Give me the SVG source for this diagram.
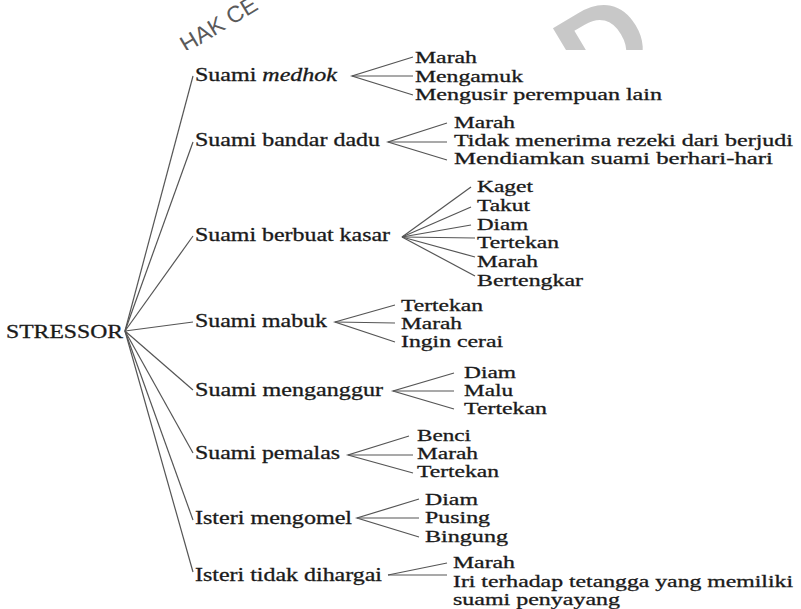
<svg xmlns="http://www.w3.org/2000/svg" width="801" height="609" viewBox="0 0 801 609">
<style>
text { font-family: "Liberation Serif", "Times New Roman", serif; fill: #1a1a1a; stroke: #1a1a1a; stroke-width: 0.3; }
.root { font-size: 19px; }
.cat { font-size: 18px; }
.item { font-size: 17px; }
.wm { font-family: "Liberation Sans", Arial, sans-serif; fill: #5a5a5a; stroke: none; font-size: 23px; }
.wmbig { font-family: "Liberation Sans", Arial, sans-serif; font-weight: bold; fill: #c8c8c8; stroke: none; font-size: 118px; }
.conn line, .conn polyline { stroke: #555; stroke-width: 1.2; fill: none; }
</style>
<defs>
<clipPath id="top"><rect x="0" y="0" width="801" height="50"/></clipPath>
</defs>
<rect width="801" height="609" fill="#ffffff"/>
<g id="watermark" clip-path="url(#top)">
<text class="wm" transform="translate(186,53) rotate(-31)">HAK CE</text>
<text class="wmbig" transform="translate(588,102) rotate(-31)">D</text>
</g>
<g class="conn" id="connectors">
<line x1="125" y1="331" x2="193" y2="76"/>
<line x1="125" y1="331" x2="193" y2="142"/>
<line x1="125" y1="331" x2="193" y2="236"/>
<line x1="125" y1="331" x2="193" y2="322"/>
<line x1="125" y1="331" x2="193" y2="390"/>
<line x1="125" y1="331" x2="193" y2="453"/>
<line x1="125" y1="331" x2="193" y2="520"/>
<line x1="125" y1="331" x2="193" y2="572"/>
<polyline points="413,57 352,76 413,95"/><line x1="352" y1="76" x2="413" y2="76"/>
<polyline points="447,123 388,142 447,160"/><line x1="388" y1="142" x2="447" y2="142"/>
<line x1="402" y1="237" x2="471" y2="187"/>
<line x1="402" y1="237" x2="471" y2="207"/>
<line x1="402" y1="237" x2="471" y2="225"/>
<line x1="402" y1="237" x2="475" y2="238"/>
<line x1="402" y1="237" x2="475" y2="257"/>
<line x1="402" y1="237" x2="475" y2="276"/>
<polyline points="395,305 335,322 395,342"/><line x1="335" y1="322" x2="395" y2="323"/>
<polyline points="454,373 393,391 454,409"/><line x1="393" y1="391" x2="454" y2="391"/>
<polyline points="409,436 348,455 413,473"/><line x1="348" y1="455" x2="413" y2="455"/>
<polyline points="419,499 357,518 419,537"/><line x1="357" y1="518" x2="419" y2="518"/>
<line x1="388" y1="575" x2="447" y2="563"/><line x1="388" y1="575" x2="447" y2="575"/>
</g>
<g id="stressor"><text class="root" x="6" y="338" textLength="117" lengthAdjust="spacingAndGlyphs">STRESSOR</text></g>
<g id="suami-medhok">
<text class="cat" x="195" y="81" textLength="142" lengthAdjust="spacingAndGlyphs">Suami <tspan font-style="italic">medhok</tspan></text>
<text class="item" x="415" y="63" textLength="62" lengthAdjust="spacingAndGlyphs">Marah</text>
<text class="item" x="415" y="82" textLength="108" lengthAdjust="spacingAndGlyphs">Mengamuk</text>
<text class="item" x="415" y="100" textLength="247" lengthAdjust="spacingAndGlyphs">Mengusir perempuan lain</text>
</g>
<g id="suami-bandar-dadu">
<text class="cat" x="195" y="146" textLength="185" lengthAdjust="spacingAndGlyphs">Suami bandar dadu</text>
<text class="item" x="454" y="128" textLength="61" lengthAdjust="spacingAndGlyphs">Marah</text>
<text class="item" x="454" y="146" textLength="339" lengthAdjust="spacingAndGlyphs">Tidak menerima rezeki dari berjudi</text>
<text class="item" x="454" y="164" textLength="319" lengthAdjust="spacingAndGlyphs">Mendiamkan suami berhari-hari</text>
</g>
<g id="suami-berbuat-kasar">
<text class="cat" x="195" y="241" textLength="195" lengthAdjust="spacingAndGlyphs">Suami berbuat kasar</text>
<text class="item" x="477" y="192" textLength="56" lengthAdjust="spacingAndGlyphs">Kaget</text>
<text class="item" x="477" y="211" textLength="53" lengthAdjust="spacingAndGlyphs">Takut</text>
<text class="item" x="477" y="230" textLength="51" lengthAdjust="spacingAndGlyphs">Diam</text>
<text class="item" x="477" y="248" textLength="82" lengthAdjust="spacingAndGlyphs">Tertekan</text>
<text class="item" x="477" y="267" textLength="61" lengthAdjust="spacingAndGlyphs">Marah</text>
<text class="item" x="477" y="286" textLength="106" lengthAdjust="spacingAndGlyphs">Bertengkar</text>
</g>
<g id="suami-mabuk">
<text class="cat" x="195" y="327" textLength="132" lengthAdjust="spacingAndGlyphs">Suami mabuk</text>
<text class="item" x="401" y="311" textLength="82" lengthAdjust="spacingAndGlyphs">Tertekan</text>
<text class="item" x="401" y="329" textLength="61" lengthAdjust="spacingAndGlyphs">Marah</text>
<text class="item" x="401" y="347" textLength="102" lengthAdjust="spacingAndGlyphs">Ingin cerai</text>
</g>
<g id="suami-menganggur">
<text class="cat" x="195" y="396" textLength="188" lengthAdjust="spacingAndGlyphs">Suami menganggur</text>
<text class="item" x="464" y="378" textLength="52" lengthAdjust="spacingAndGlyphs">Diam</text>
<text class="item" x="464" y="396" textLength="49" lengthAdjust="spacingAndGlyphs">Malu</text>
<text class="item" x="464" y="414" textLength="83" lengthAdjust="spacingAndGlyphs">Tertekan</text>
</g>
<g id="suami-pemalas">
<text class="cat" x="195" y="459" textLength="145" lengthAdjust="spacingAndGlyphs">Suami pemalas</text>
<text class="item" x="417" y="441" textLength="54" lengthAdjust="spacingAndGlyphs">Benci</text>
<text class="item" x="417" y="459" textLength="61" lengthAdjust="spacingAndGlyphs">Marah</text>
<text class="item" x="417" y="477" textLength="82" lengthAdjust="spacingAndGlyphs">Tertekan</text>
</g>
<g id="isteri-mengomel">
<text class="cat" x="195" y="524" textLength="157" lengthAdjust="spacingAndGlyphs">Isteri mengomel</text>
<text class="item" x="425" y="505" textLength="53" lengthAdjust="spacingAndGlyphs">Diam</text>
<text class="item" x="425" y="523" textLength="65" lengthAdjust="spacingAndGlyphs">Pusing</text>
<text class="item" x="425" y="542" textLength="83" lengthAdjust="spacingAndGlyphs">Bingung</text>
</g>
<g id="isteri-tidak-dihargai">
<text class="cat" x="195" y="581" textLength="187" lengthAdjust="spacingAndGlyphs">Isteri tidak dihargai</text>
<text class="item" x="453" y="568" textLength="62" lengthAdjust="spacingAndGlyphs">Marah</text>
<text class="item" x="453" y="587" textLength="340" lengthAdjust="spacingAndGlyphs">Iri terhadap tetangga yang memiliki</text>
<text class="item" x="453" y="605" textLength="167" lengthAdjust="spacingAndGlyphs">suami penyayang</text>
</g>
</svg>
